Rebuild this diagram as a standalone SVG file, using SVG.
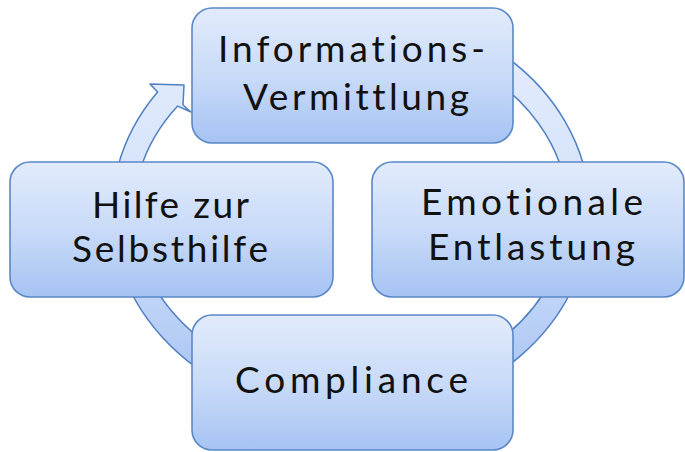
<svg xmlns="http://www.w3.org/2000/svg" width="685" height="452" viewBox="0 0 685 452">
  <defs>
    <linearGradient id="ringFill" gradientUnits="userSpaceOnUse" x1="0" y1="8" x2="0" y2="416">
      <stop offset="0" stop-color="#e8effd"/>
      <stop offset="0.5" stop-color="#d2e1fa"/>
      <stop offset="1" stop-color="#a4c1f2"/>
    </linearGradient>
    <linearGradient id="boxFill" x1="0" y1="0" x2="0" y2="1">
      <stop offset="0" stop-color="#e2ebfc"/>
      <stop offset="0.5" stop-color="#c9dbf8"/>
      <stop offset="1" stop-color="#a6c3f3"/>
    </linearGradient>
    <style>
      .box { fill: url(#boxFill); stroke: #5a88c7; stroke-width: 1.6; }
      .ring { fill: url(#ringFill); stroke: #4f7fc0; stroke-width: 1.5; stroke-linejoin: round; }
      .label { font-family: Lato, "Noto Sans", "DejaVu Sans", sans-serif; font-size: 37px; fill: #111111; text-anchor: start; font-variant-ligatures: none; }
    </style>
  </defs>

  <!-- circular arrow running clockwise behind the four blocks -->
  <g id="connectors">
    <path class="ring" d="M 412.9,15.0 A 239 204 0 1 1 157.6,92.1 L 150,84 L 184,85 L 183,105 L 191,112 L 177.7,106.1 A 217 176 0 1 0 407.2,42.0 Z"/>
  </g>

  <g id="node-information">
    <rect class="box" x="192" y="8" width="321" height="135" rx="20" ry="20"/>
    <text class="label" x="218" y="62" textLength="267" lengthAdjust="spacing">Informations-</text>
    <text class="label" x="243" y="110" textLength="226" lengthAdjust="spacing">Vermittlung</text>
  </g>

  <g id="node-emotional">
    <rect class="box" x="372" y="162" width="312" height="135" rx="20" ry="20"/>
    <text class="label" x="421" y="215" textLength="222" lengthAdjust="spacing">Emotionale</text>
    <text class="label" x="428" y="260" textLength="207" lengthAdjust="spacing">Entlastung</text>
  </g>

  <g id="node-compliance">
    <rect class="box" x="192" y="315" width="321" height="135" rx="20" ry="20"/>
    <text class="label" x="235" y="393" textLength="233" lengthAdjust="spacing">Compliance</text>
  </g>

  <g id="node-selfhelp">
    <rect class="box" x="10" y="162" width="323" height="135" rx="20" ry="20"/>
    <text class="label" x="92" y="218" textLength="157" lengthAdjust="spacing">Hilfe zur</text>
    <text class="label" x="72" y="262" textLength="196" lengthAdjust="spacing">Selbsthilfe</text>
  </g>
</svg>
